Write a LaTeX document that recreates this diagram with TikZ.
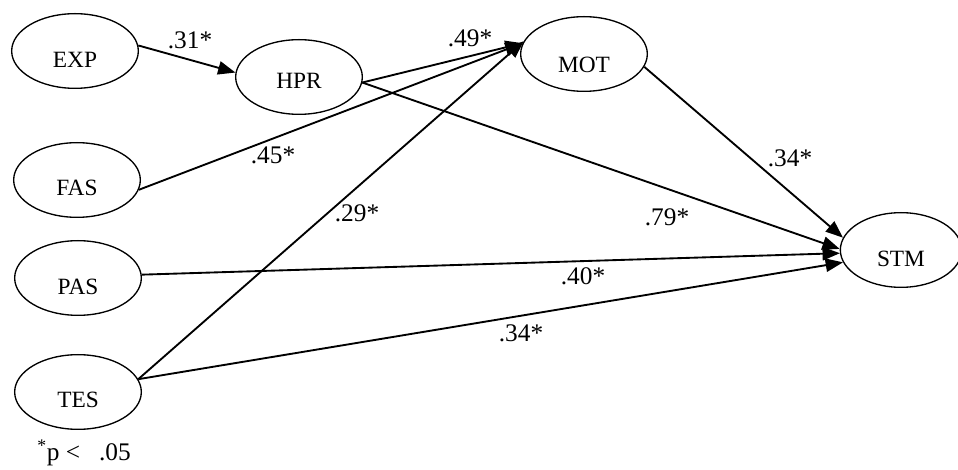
\documentclass[tikz,border=0pt]{standalone}
\usepackage{fontspec}
\setmainfont{Liberation Serif}
\usetikzlibrary{shapes.geometric,arrows.meta}
\tikzset{
  var/.style={draw, ellipse, line width=1pt, minimum width=95pt, minimum height=56pt, inner sep=0pt},
  path/.style={line width=1.4pt, -{Triangle[length=13pt,width=10pt]}},
  coef/.style={inner sep=0pt, font=\fontsize{19}{22}\selectfont}
}
\newcommand{\lowtext}[2]{\raisebox{-#1}[\height][\depth]{#2}}
\begin{document}
\begin{tikzpicture}[x=0.75pt,y=-0.75pt, font=\fontsize{17.5}{20}\selectfont]
\useasboundingbox (0,0) rectangle (958,470);
\node[var] (exp) at (75,51) {\lowtext{7pt}{EXP}};
\node[var] (hpr) at (299,77) {\lowtext{3pt}{HPR}};
\node[var] (mot) at (584,54) {\lowtext{8pt}{MOT}};
\node[var] (fas) at (77,180) {\lowtext{6pt}{FAS}};
\node[var] (pas) at (78,278) {\lowtext{7pt}{PAS}};
\node[var] (tes) at (78,392) {\lowtext{6pt}{TES}};
\node[var, minimum width=91pt] (stm) at (901,250) {\lowtext{7pt}{STM}};

\draw[path] (exp.5) -- (hpr.176);
\draw[path] (hpr.-5) -- (mot.170);
\draw[path] (fas.-9) -- (mot.170);
\draw[path] (tes.12) -- (mot.168);
\draw[path] (hpr.-5) -- (stm.179);
\draw[path] (mot.-12) -- (stm.168);
\draw[path] (pas.3) -- (stm.183);
\draw[path] (tes.12) -- (stm.192);

\node[coef] (l31) at (190,40) {.31*};
\node[coef] (l49) at (470,38) {.49*};
\node[coef] (l45) at (273,155) {.45*};
\node[coef] (l29) at (357,213) {.29*};
\node[coef] (l34a) at (790,158) {.34*};
\node[coef] (l79) at (667,217) {.79*};
\node[coef] (l40) at (583,276) {.40*};
\node[coef] (l34b) at (521,333) {.34*};
\node[coef, anchor=west] (note) at (37,453) {\textsuperscript{*}p <\,\,\, .05};
\end{tikzpicture}
\end{document}
